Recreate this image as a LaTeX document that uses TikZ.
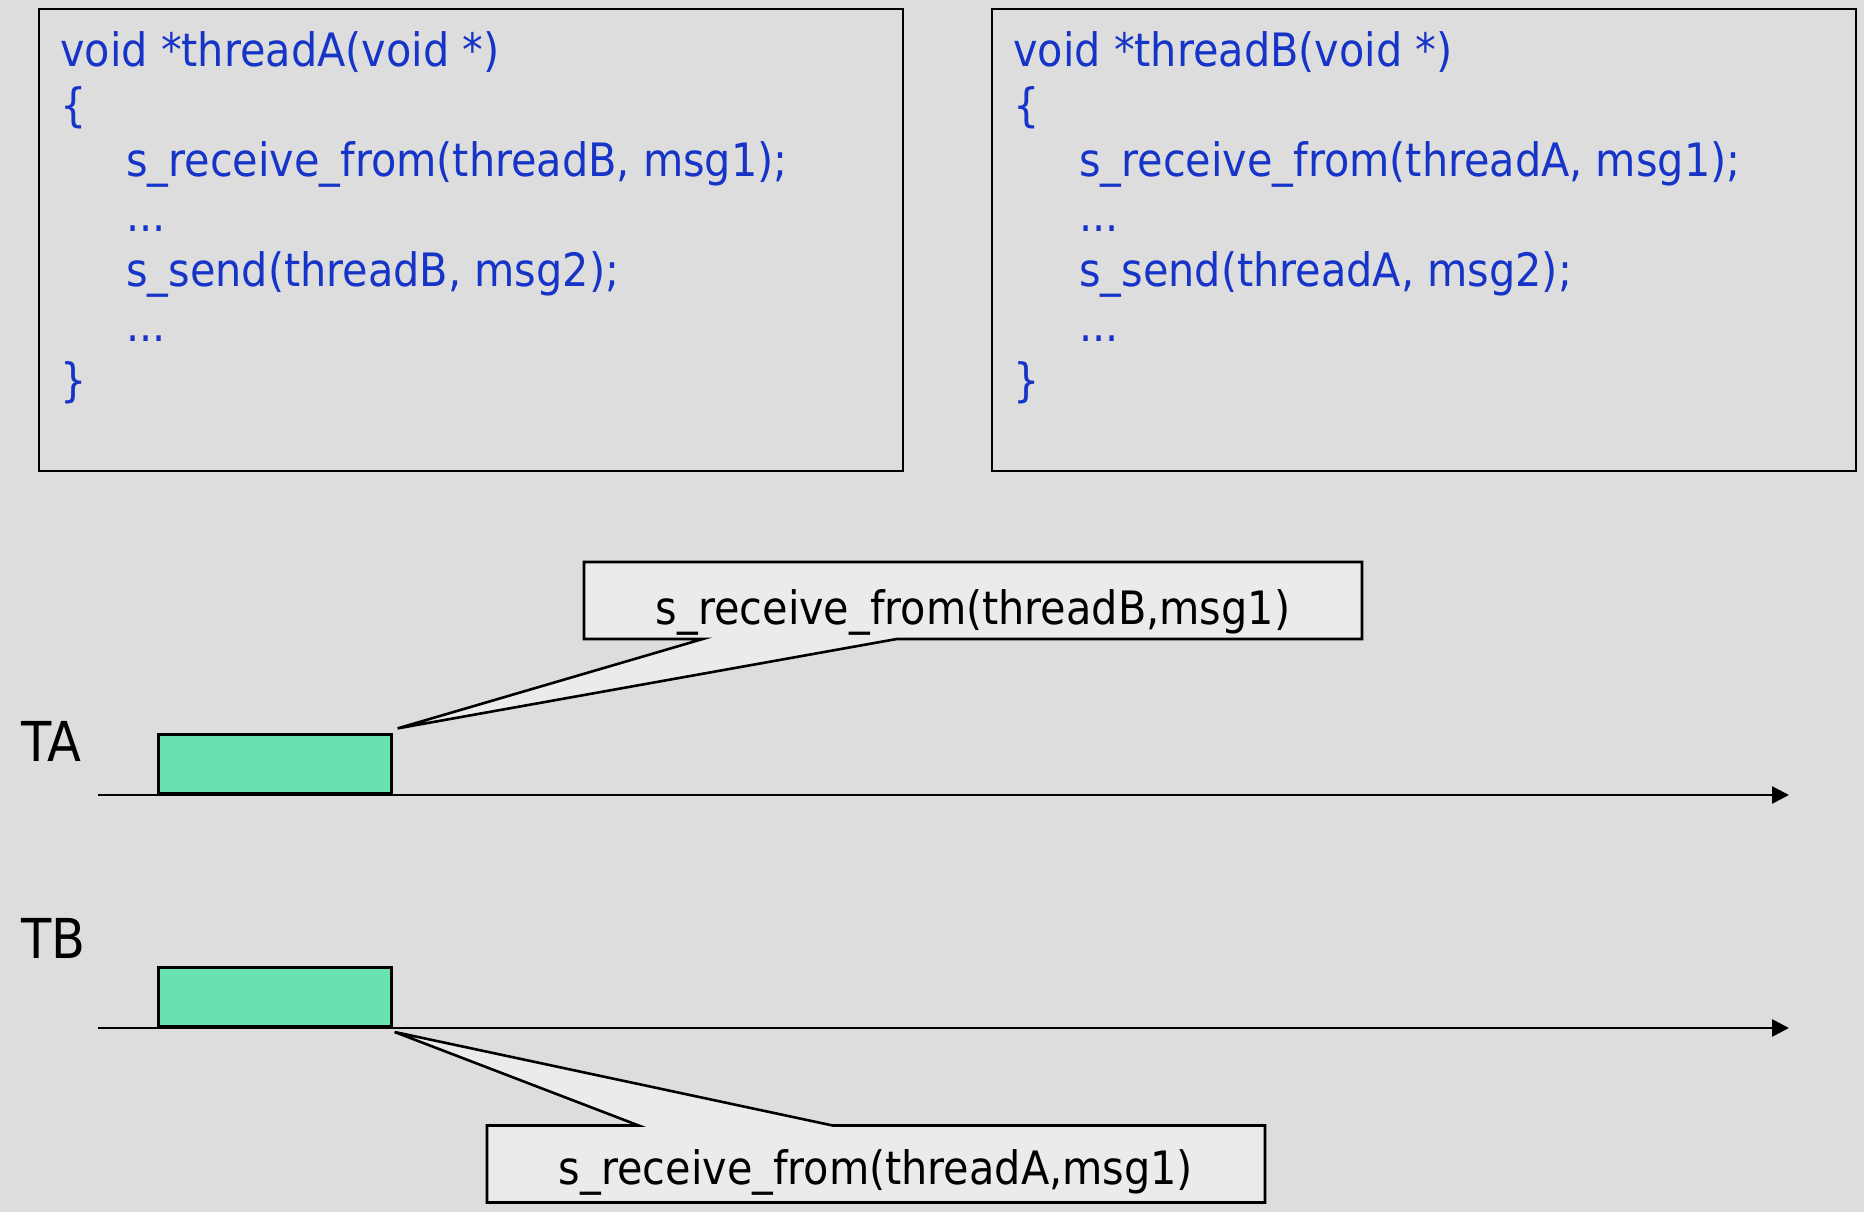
\documentclass[tikz,border=0pt]{standalone}
\usepackage{fontspec}
\setmainfont{DejaVu Sans Condensed}
\usetikzlibrary{arrows.meta,shapes.callouts}
\definecolor{bgGray}{RGB}{221,221,221}
\definecolor{tipGray}{RGB}{235,235,235}
\definecolor{runGreen}{RGB}{104,226,174}
\definecolor{codeBlue}{RGB}{22,52,200}

\begin{document}
\begin{tikzpicture}[x=0.5bp, y=-0.5bp,
    code/.style={anchor=base west, inner sep=0, text=codeBlue, font=\fontsize{23bp}{27bp}\selectfont},
    tlabel/.style={anchor=base west, inner sep=0, font=\fontsize{27.5bp}{32bp}\selectfont},
    run/.style={draw, line width=1.3bp, fill=runGreen, anchor=south west, inner sep=0,
      minimum width=116.5bp, minimum height=29.5bp},
    tip/.style={rectangle callout, draw, line width=1.3bp, fill=tipGray, inner sep=0,
      minimum width=389bp, minimum height=38.5bp, callout pointer width=97bp, text depth=0bp,
      font=\fontsize{23bp}{27bp}\selectfont},
    axis/.style={line width=1.3bp, -{Triangle[length=8.5bp, width=8.5bp]}}]
  \fill[bgGray] (0,0) rectangle (1864,1212);
  \useasboundingbox (0,0) rectangle (1864,1212);
  % the two threads
  \draw[line width=1.3bp] (39,9) rectangle (903,471);
  \draw[line width=1.3bp] (992,9) rectangle (1856,471);
  \foreach \ind/\txt [count=\i] in {0/{void *threadA(void *)}, 0/\{, 1/{s\_receive\_from(threadB, msg1);},
      1/{...}, 1/{s\_send(threadB, msg2);}, 1/{...}, 0/\}}
    \node[code] (a\i) at ({60+66*\ind}, {12+55*\i}) {\txt};
  \foreach \ind/\txt [count=\i] in {0/{void *threadB(void *)}, 0/\{, 1/{s\_receive\_from(threadA, msg1);},
      1/{...}, 1/{s\_send(threadA, msg2);}, 1/{...}, 0/\}}
    \node[code] (b\i) at ({1013+66*\ind}, {12+55*\i}) {\txt};
  % time lines
  \node[tlabel] (TA) at (21,762) {TA};
  \node[tlabel] (TB) at (21,959) {TB};
  \node[run] (rA) at (157,795) {};
  \node[run] (rB) at (157,1028) {};
  \coordinate (a0) at (98,795);
  \coordinate (a1) at (1789,795);
  \coordinate (b0) at (98,1028);
  \coordinate (b1) at (1789,1028);
  \draw[axis] (a0) -- (a1);
  \draw[axis] (b0) -- (b1);
  % callouts
  \coordinate (tipA) at ([shift={(5,-5)}]rA.north east);
  \coordinate (tipB) at ([shift={(2,4)}]rB.south east);
  \node[tip, text height=24bp, callout absolute pointer=(tipA)] (cA) at (973,600.5) {s\_receive\_from(threadB,msg1)};
  \node[tip, text height=20bp, callout absolute pointer=(tipB)] (cB) at (876,1164) {s\_receive\_from(threadA,msg1)};
\end{tikzpicture}
\end{document}
